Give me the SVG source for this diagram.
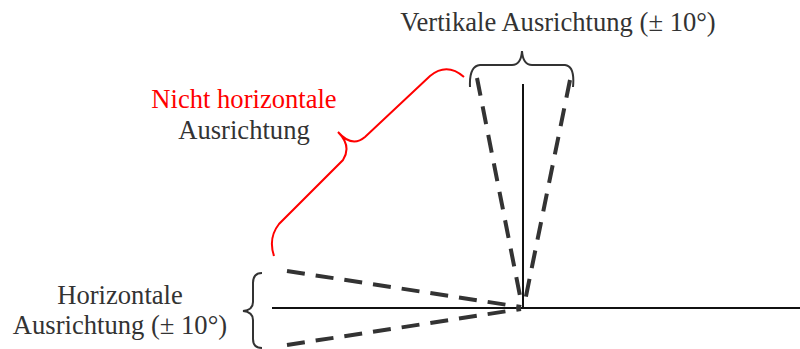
<svg xmlns="http://www.w3.org/2000/svg" width="800" height="349" viewBox="0 0 800 349">
<style>
text{font-family:"Liberation Serif","Times New Roman",serif;font-size:26.6px;fill:#333;text-anchor:middle}
.red{fill:#ff0000}
.axis{stroke:#111;stroke-width:2;fill:none}
.dash{stroke:#333;stroke-width:4;stroke-dasharray:18 11;fill:none}
.brace{stroke:#333;stroke-width:2;fill:none}
.rbrace{stroke:#ff0000;stroke-width:2;fill:none}
</style>
<rect width="800" height="349" fill="#fff"/>
<g id="connectors">
<line class="axis" x1="272" y1="308" x2="800" y2="308"/>
<line class="axis" x1="523" y1="84" x2="523" y2="308"/>
<line class="dash" x1="477" y1="78" x2="522" y2="306"/>
<line class="dash" x1="570" y1="80" x2="524" y2="306"/>
<line class="dash" x1="287" y1="271" x2="521" y2="307"/>
<line class="dash" x1="287" y1="345" x2="521" y2="309"/>
</g>
<g id="vertical">
<path class="brace" d="M470 87 Q469 66 480 65 L512 65 Q521 65 522 51 Q523 65 532 65 L565 65 Q575 66 573 87"/>
<text x="558" y="31">Vertikale Ausrichtung (± 10°)</text>
</g>
<g id="horizontal">
<path class="brace" d="M262 273 Q253 273 253 283 L253 302 Q253 310 243 311 Q253 312 253 320 L253 339 Q253 348 262 348"/>
<text x="120" y="304">Horizontale</text>
<text x="120" y="334">Ausrichtung (± 10°)</text>
</g>
<g id="nonhorizontal">
<path class="rbrace" d="M464 77 Q447 62 430 76 L365 137 Q352 148 338 132 Q352 146 343 160 L279 224 Q268 238 274 256"/>
<text class="red" x="244" y="108">Nicht horizontale</text>
<text x="244" y="139">Ausrichtung</text>
</g>
</svg>
